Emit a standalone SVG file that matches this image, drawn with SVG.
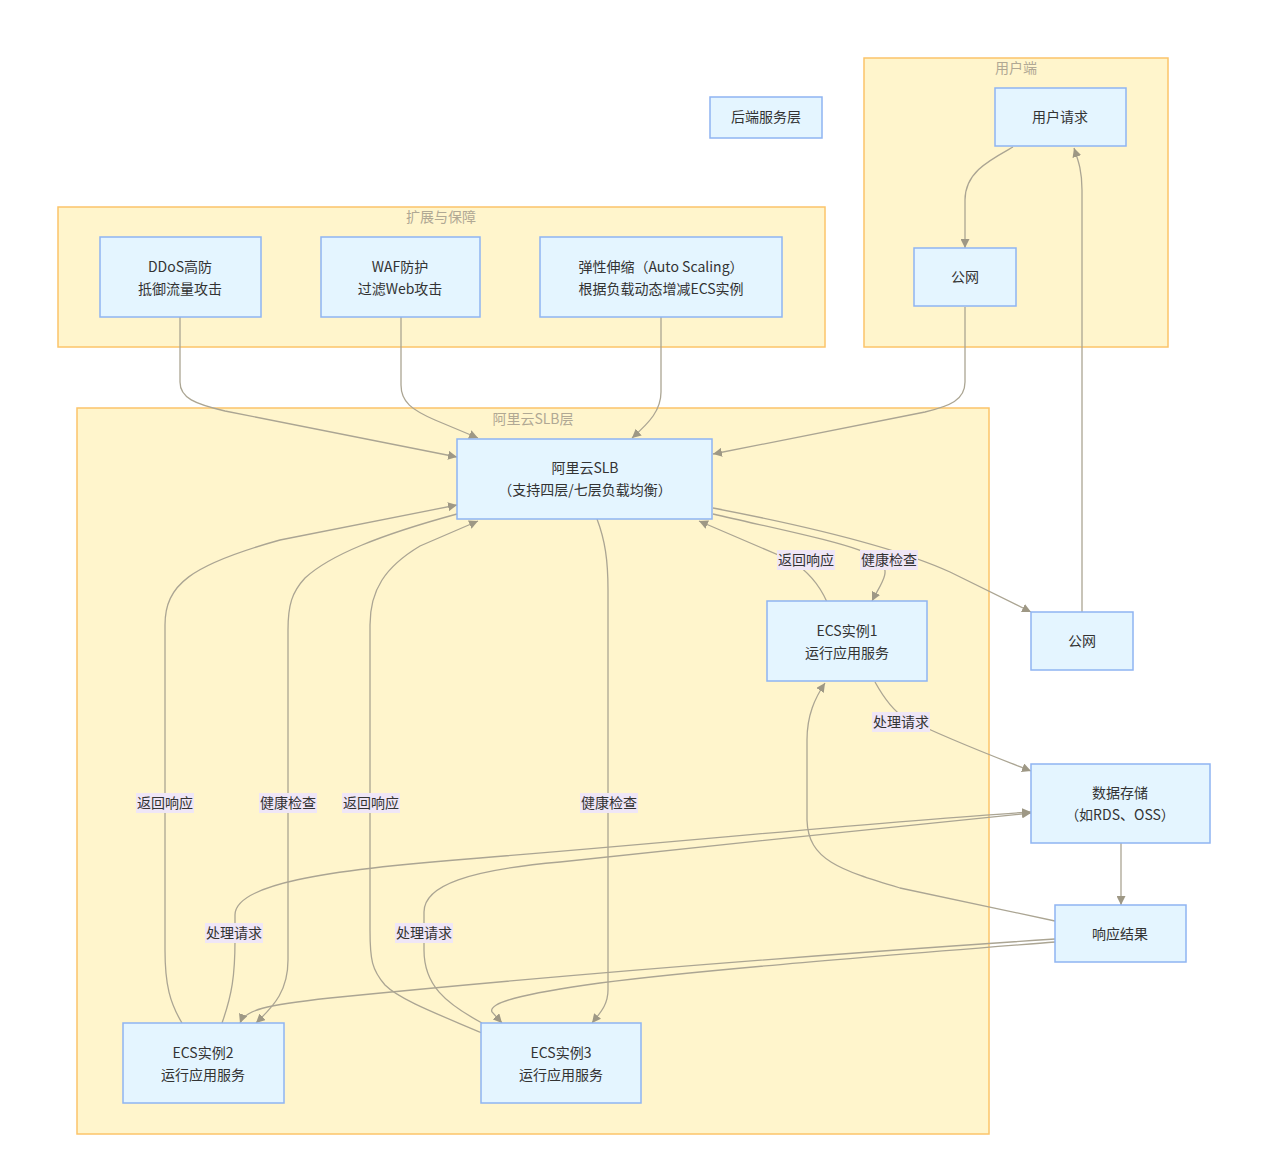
<svg xmlns="http://www.w3.org/2000/svg" width="1269" height="1166" viewBox="0 0 1269 1166">
<defs>
<marker id="arr" viewBox="0 0 10 10" refX="10" refY="5" markerWidth="9" markerHeight="9" markerUnits="userSpaceOnUse" orient="auto">
<path d="M0,0 L10,5 L0,10 z" fill="#9e9885"/>
</marker>
<style>
text{font-family:"Noto Sans CJK SC","Noto Sans",sans-serif;font-size:14px;fill:#333;text-anchor:middle}
.cl{fill:#fff5cc;stroke:#fcc46a;stroke-width:1.5}
.ct{fill:#b0a894;font-size:14px}
.nd{fill:#e4f5ff;stroke:#8fb4f2;stroke-width:1.5}
.e{fill:none;stroke:#aba593;stroke-width:1.3}
.lb{fill:#efe6f6}
</style>
</defs>
<rect width="1269" height="1166" fill="#fff"/>
<g id="clusters">
<rect class="cl" x="864" y="58" width="304" height="289"/>
<text class="ct" x="1016" y="73">用户端</text>
<rect class="cl" x="58" y="207" width="767" height="140"/>
<text class="ct" x="441" y="222">扩展与保障</text>
<rect class="cl" x="77" y="408" width="912" height="726"/>
<text class="ct" x="533" y="424">阿里云SLB层</text>
</g>
<g id="connectors">
<path class="e" d="M1013,147 C990,160 965,172 965,200 L965,248" marker-end="url(#arr)"/>
<path class="e" d="M965,307 L965,382 C965,400 950,406 925,412 L713,454" marker-end="url(#arr)"/>
<path class="e" d="M180,317 L180,382 C180,398 195,404 225,411 L457,457" marker-end="url(#arr)"/>
<path class="e" d="M401,317 L401,385 C401,402 412,410 435,420 L478,438" marker-end="url(#arr)"/>
<path class="e" d="M661,317 L661,392 C661,410 650,422 632,438" marker-end="url(#arr)"/>
<path class="e" d="M713,508 Q880,540 950,572 L1031,612" marker-end="url(#arr)"/>
<path class="e" d="M1082,612 L1082,190 C1082,170 1078,160 1074,148" marker-end="url(#arr)"/>
<path class="e" d="M713,514 C790,532 860,545 880,560 C892,572 880,585 872,601" marker-end="url(#arr)"/>
<path class="e" d="M827,602 Q815,575 790,560 L699,521" marker-end="url(#arr)"/>
<path class="e" d="M875,682 C885,700 895,712 905,718 C950,740 990,755 1031,771" marker-end="url(#arr)"/>
<path class="e" d="M1121,843 L1121,905" marker-end="url(#arr)"/>
<path class="e" d="M1055,921 L900,888 C840,870 808,860 807,820 L807,740 C807,715 815,698 825,683" marker-end="url(#arr)"/>
<path class="e" d="M1055,939 C800,956 560,975 330,998 C265,1005 245,1010 240,1023" marker-end="url(#arr)"/>
<path class="e" d="M1055,942 C880,956 700,970 600,983 C520,994 488,1003 492,1012 L502,1023" marker-end="url(#arr)"/>
<path class="e" d="M222,1023 C232,995 235,975 235,940 L235,915 C235,885 320,870 480,858 C700,840 900,820 1031,812" marker-end="url(#arr)"/>
<path class="e" d="M482,1023 C445,1003 424,985 424,950 L424,912 C424,885 470,870 560,862 C700,847 900,826 1031,813" marker-end="url(#arr)"/>
<path class="e" d="M182,1023 C170,1003 165,985 165,950 L165,625 C165,585 190,565 280,540 L457,505" marker-end="url(#arr)"/>
<path class="e" d="M457,514 C380,535 330,555 305,578 C292,592 288,605 288,630 L288,960 C288,990 275,1005 256,1023" marker-end="url(#arr)"/>
<path class="e" d="M482,1033 C440,1015 400,1000 385,985 C372,970 370,960 370,930 L370,625 C370,590 385,567 420,546 L478,521" marker-end="url(#arr)"/>
<path class="e" d="M597,519 C605,540 608,560 608,590 L608,990 C608,1005 600,1013 592,1023" marker-end="url(#arr)"/>
<g id="edge-labels">
<rect class="lb" x="777" y="550" width="58" height="20"/><text x="806" y="565">返回响应</text>
<rect class="lb" x="860" y="550" width="58" height="20"/><text x="889" y="565">健康检查</text>
<rect class="lb" x="872" y="712" width="58" height="20"/><text x="901" y="727">处理请求</text>
<rect class="lb" x="136" y="793" width="58" height="20"/><text x="165" y="808">返回响应</text>
<rect class="lb" x="259" y="793" width="58" height="20"/><text x="288" y="808">健康检查</text>
<rect class="lb" x="342" y="793" width="58" height="20"/><text x="371" y="808">返回响应</text>
<rect class="lb" x="580" y="793" width="58" height="20"/><text x="609" y="808">健康检查</text>
<rect class="lb" x="205" y="923" width="58" height="20"/><text x="234" y="938">处理请求</text>
<rect class="lb" x="395" y="923" width="58" height="20"/><text x="424" y="938">处理请求</text>
</g>
</g>
<g id="n-backend"><rect class="nd" x="710" y="97" width="112" height="41"/><text x="766" y="122">后端服务层</text></g>
<g id="n-userreq"><rect class="nd" x="995" y="88" width="131" height="58"/><text x="1060" y="122">用户请求</text></g>
<g id="n-net1"><rect class="nd" x="914" y="248" width="102" height="58"/><text x="965" y="282">公网</text></g>
<g id="n-ddos"><rect class="nd" x="100" y="237" width="161" height="80"/><text x="180" y="272">DDoS高防</text><text x="180" y="294">抵御流量攻击</text></g>
<g id="n-waf"><rect class="nd" x="321" y="237" width="159" height="80"/><text x="400" y="272">WAF防护</text><text x="400" y="294">过滤Web攻击</text></g>
<g id="n-as"><rect class="nd" x="540" y="237" width="242" height="80"/><text x="661" y="272">弹性伸缩（Auto Scaling）</text><text x="661" y="294">根据负载动态增减ECS实例</text></g>
<g id="n-slb"><rect class="nd" x="457" y="439" width="255" height="80"/><text x="585" y="473">阿里云SLB</text><text x="585" y="495">（支持四层/七层负载均衡）</text></g>
<g id="n-ecs1"><rect class="nd" x="767" y="601" width="160" height="80"/><text x="847" y="636">ECS实例1</text><text x="847" y="658">运行应用服务</text></g>
<g id="n-net2"><rect class="nd" x="1031" y="612" width="102" height="58"/><text x="1082" y="646">公网</text></g>
<g id="n-data"><rect class="nd" x="1031" y="764" width="179" height="79"/><text x="1120" y="798">数据存储</text><text x="1120" y="820">（如RDS、OSS）</text></g>
<g id="n-resp"><rect class="nd" x="1055" y="905" width="131" height="57"/><text x="1120" y="939">响应结果</text></g>
<g id="n-ecs2"><rect class="nd" x="123" y="1023" width="161" height="80"/><text x="203" y="1058">ECS实例2</text><text x="203" y="1080">运行应用服务</text></g>
<g id="n-ecs3"><rect class="nd" x="481" y="1023" width="160" height="80"/><text x="561" y="1058">ECS实例3</text><text x="561" y="1080">运行应用服务</text></g>
</svg>
